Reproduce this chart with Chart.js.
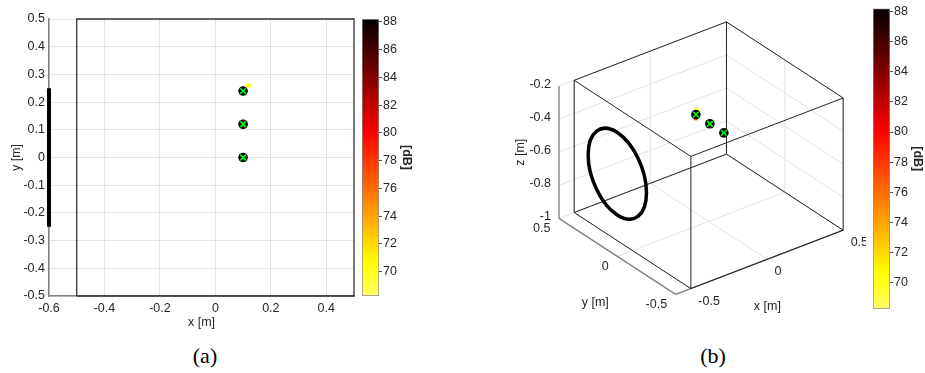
<!DOCTYPE html>
<html>
<head>
<meta charset="utf-8">
<script src="https://cdn.jsdelivr.net/npm/chart.js@4.4.0/dist/chart.umd.min.js"></script>
<style>
body { margin: 0; background: #fff; width: 925px; height: 373px; position: relative; overflow: hidden; }
canvas { position: absolute; top: 0; }
.cap { position: absolute; top: 345px; font-family: "Liberation Serif", "DejaVu Serif", serif; font-size: 22px; line-height: 22px; color: #000; transform: translateX(-50%); }
</style>
</head>
<body>
<canvas id="cA" width="360" height="340" style="left:0"></canvas>
<canvas id="cbA" width="59" height="340" style="left:355px"></canvas>
<canvas id="cB" width="406" height="340" style="left:460px"></canvas>
<canvas id="cbB" width="59" height="340" style="left:866px"></canvas>
<div class="cap" style="left:205px">(a)</div>
<div class="cap" style="left:713px">(b)</div>
<script>
// axis limits and ticks
var xLim = [-0.6, 0.5];
var yLim = [-0.5, 0.5];
var zLim = [-1, -0.2];
var xTicks = [-0.6, -0.4, -0.2, 0, 0.2, 0.4];
var yTicks = [-0.5, -0.4, -0.3, -0.2, -0.1, 0, 0.1, 0.2, 0.3, 0.4, 0.5];
var xTicks3 = [-0.5, 0, 0.5];
var yTicks3 = [-0.5, 0, 0.5];
var zTicks3 = [-1, -0.8, -0.6, -0.4, -0.2];
var dbTicks = [70, 72, 74, 76, 78, 80, 82, 84, 86, 88];
var dbRange = [68.25, 88.2];

// room box
var roomX = [-0.5, 0.5];
var roomY = [-0.5, 0.5];
var roomZ = [-1, -0.2];

// circular array (centre, radius)
var arrayCenter = [-0.6, 0, -0.5];
var arrayRadius = 0.25;

// marked positions
var micX = [0.1, 0.1, 0.1];
var micY = [0.24, 0.12, 0];
var micZ = [-0.5, -0.5, -0.5];

// map estimates
var srcX = [0.12, 0.1];
var srcY = [0.26, 0.24];
var srcZ = [-0.49, -0.52];
var srcLevel = [70, 75];

var textCol = '#262626';
var fontFam = '"Liberation Sans", Arial, sans-serif';
var fontTick = { family: fontFam, size: 12.5 };

function fmt(v) { return String(Math.round(v * 10) / 10); }
function clamp(t) { return Math.max(0, Math.min(1, t)); }

// flipped "hot" colour map
function hotColor(v) {
  var t = (dbRange[1] - v) / (dbRange[1] - dbRange[0]);
  var r = clamp(t / 0.41), g = clamp((t - 0.41) / 0.47), b = clamp((t - 0.88) / 0.12) * 0.4;
  return 'rgb(' + Math.round(r * 255) + ',' + Math.round(g * 255) + ',' + Math.round(b * 255) + ')';
}

function barGradient(ctx) {
  var ch = ctx.chart;
  if (!ch.chartArea) return '#ff0';
  var y = ch.scales.y;
  var g = ch.ctx.createLinearGradient(0, y.getPixelForValue(dbRange[1]), 0, y.getPixelForValue(dbRange[0]));
  for (var i = 0; i <= 40; i++) {
    g.addColorStop(i / 40, hotColor(dbRange[1] - (dbRange[1] - dbRange[0]) * i / 40));
  }
  return g;
}

function pts(xs, ys) { return xs.map(function (x, i) { return { x: x, y: ys[i] }; }); }

Chart.defaults.font.family = fontFam;
Chart.defaults.color = textCol;

// ---------- (a) top view ----------
new Chart(document.getElementById('cA'), {
  type: 'scatter',
  data: {
    datasets: [
      { data: [{ x: roomX[0], y: roomY[0] }, { x: roomX[1], y: roomY[0] }, { x: roomX[1], y: roomY[1] }, { x: roomX[0], y: roomY[1] }, { x: roomX[0], y: roomY[0] }],
        showLine: true, borderColor: '#333', borderWidth: 1.3, pointRadius: 0, clip: false, order: 5 },
      { data: [{ x: arrayCenter[0], y: arrayCenter[1] - arrayRadius }, { x: arrayCenter[0], y: arrayCenter[1] + arrayRadius }],
        showLine: true, borderColor: '#000', borderWidth: 4, pointRadius: 0, clip: false, order: 4 },
      { data: pts(srcX, srcY), pointRadius: 2.6, pointBorderWidth: 0,
        pointBackgroundColor: srcLevel.map(hotColor), order: 3 },
      { data: pts(micX, micY), pointRadius: 4.8, pointBorderWidth: 0, pointBackgroundColor: '#000', order: 2 },
      { data: pts(micX, micY), pointStyle: 'crossRot', pointRadius: 4, pointBorderWidth: 1.6, pointBorderColor: '#00ff00', order: 1 }
    ]
  },
  options: {
    responsive: false, animation: false, events: [],
    layout: { padding: { left: 0, top: 19, right: 6, bottom: 0 } },
    plugins: { legend: { display: false }, tooltip: { enabled: false } },
    scales: {
      x: {
        type: 'linear', min: xLim[0], max: xLim[1],
        afterBuildTicks: function (s) { s.ticks = xTicks.map(function (v) { return { value: v }; }); },
        afterFit: function (s) { s.height = 44; },
        grid: { color: '#e4e4e4', drawTicks: false },
        border: { color: '#808080', width: 1.5 },
        ticks: { padding: 5, color: textCol, font: fontTick, maxRotation: 0, callback: fmt },
        title: { display: true, text: 'x [m]', color: textCol, font: fontTick, padding: { top: 0, bottom: 10 } }
      },
      y: {
        type: 'linear', min: yLim[0], max: yLim[1],
        afterBuildTicks: function (s) { s.ticks = yTicks.map(function (v) { return { value: v }; }); },
        afterFit: function (s) { s.width = 49; },
        grid: { color: '#e4e4e4', drawTicks: false },
        border: { color: '#808080', width: 1.5 },
        ticks: { padding: 4, color: textCol, font: fontTick, callback: fmt },
        title: { display: true, text: 'y [m]', color: textCol, font: fontTick, padding: { top: 9, bottom: 0 } }
      }
    }
  }
});

// ---------- colour bars ----------
function colorBar(id, top, bottom) {
  new Chart(document.getElementById(id), {
    type: 'bar',
    data: {
      labels: ['dB'],
      datasets: [{ data: [dbRange], backgroundColor: barGradient, borderColor: '#8c8c8c', borderWidth: 1,
        borderSkipped: false, barPercentage: 1, categoryPercentage: 1 }]
    },
    options: {
      responsive: false, animation: false, events: [],
      layout: { padding: { left: 7, top: top, right: 0, bottom: bottom } },
      plugins: { legend: { display: false }, tooltip: { enabled: false } },
      scales: {
        x: { display: false },
        y: {
          position: 'right', min: dbRange[0], max: dbRange[1],
          afterBuildTicks: function (s) { s.ticks = dbTicks.map(function (v) { return { value: v }; }); },
          afterFit: function (s) { s.width = 35; },
          grid: { drawOnChartArea: false, drawTicks: true, tickLength: 3, color: '#555' },
          border: { display: false },
          ticks: { padding: 1, color: textCol, font: fontTick },
          title: { display: true, text: '[dB]', color: textCol, font: { size: 12.5, weight: 'bold' }, padding: { top: 0, bottom: 0 } }
        }
      }
    }
  });
}
colorBar('cbA', 19, 44);
colorBar('cbB', 6, 31);

// ---------- (b) 3-D view ----------
// view: screen position of the axis-minimum corner and of the unit axis vectors
var view3 = { origin: [216, 298.7], ex: [156.6, -60.4], ey: [-120, -78.7], ez: [0, -170.9] };

function proj(x, y, z) {
  var dx = x - xLim[0], dy = y - yLim[0], dz = z - zLim[0];
  return {
    x: view3.origin[0] + view3.ex[0] * dx + view3.ey[0] * dy + view3.ez[0] * dz,
    y: view3.origin[1] + view3.ex[1] * dx + view3.ey[1] * dy + view3.ez[1] * dz
  };
}

function seg(a, b, color, width, order) {
  return { data: [proj(a[0], a[1], a[2]), proj(b[0], b[1], b[2])], showLine: true, borderColor: color,
    borderWidth: width, pointRadius: 0, clip: false, order: order };
}

var ds3 = [];
// back-wall grid
zTicks3.forEach(function (z) {
  ds3.push(seg([xLim[0], yLim[1], z], [xLim[1], yLim[1], z], '#e2e2e2', 1, 9));
  ds3.push(seg([xLim[1], yLim[0], z], [xLim[1], yLim[1], z], '#e2e2e2', 1, 9));
});
xTicks3.forEach(function (x) {
  ds3.push(seg([x, yLim[1], zLim[0]], [x, yLim[1], zLim[1]], '#e2e2e2', 1, 9));
  ds3.push(seg([x, yLim[0], zLim[0]], [x, yLim[1], zLim[0]], '#e2e2e2', 1, 9));
});
yTicks3.forEach(function (y) {
  ds3.push(seg([xLim[1], y, zLim[0]], [xLim[1], y, zLim[1]], '#e2e2e2', 1, 9));
  ds3.push(seg([xLim[0], y, zLim[0]], [xLim[1], y, zLim[0]], '#e2e2e2', 1, 9));
});
// axis lines
ds3.push(seg([xLim[0], yLim[1], zLim[0]], [xLim[0], yLim[1], zLim[1]], '#808080', 1.4, 8));
ds3.push(seg([xLim[0], yLim[0], zLim[0]], [xLim[0], yLim[1], zLim[0]], '#808080', 1.4, 8));
ds3.push(seg([xLim[0], yLim[0], zLim[0]], [xLim[1], yLim[0], zLim[0]], '#808080', 1.4, 8));
// room box edges
[0, 1].forEach(function (a) {
  [0, 1].forEach(function (b) {
    ds3.push(seg([roomX[0], roomY[a], roomZ[b]], [roomX[1], roomY[a], roomZ[b]], '#222', 1, 7));
    ds3.push(seg([roomX[a], roomY[0], roomZ[b]], [roomX[a], roomY[1], roomZ[b]], '#222', 1, 7));
    ds3.push(seg([roomX[a], roomY[b], roomZ[0]], [roomX[a], roomY[b], roomZ[1]], '#222', 1, 7));
  });
});
ds3.push({ data: srcX.map(function (x, i) { return proj(x, srcY[i], srcZ[i]); }), pointRadius: 2.6, pointBorderWidth: 0,
  pointBackgroundColor: srcLevel.map(hotColor), order: 3 });
ds3.push({ data: micX.map(function (x, i) { return proj(x, micY[i], micZ[i]); }), pointRadius: 4.8, pointBorderWidth: 0,
  pointBackgroundColor: '#000', order: 2 });
ds3.push({ data: micX.map(function (x, i) { return proj(x, micY[i], micZ[i]); }), pointStyle: 'crossRot', pointRadius: 4,
  pointBorderWidth: 1.6, pointBorderColor: '#00ff00', order: 1 });

var axes3 = {
  id: 'axes3',
  afterDraw: function (chart) {
    var ctx = chart.ctx, sx = chart.scales.x, sy = chart.scales.y;
    function P(x, y, z) { var p = proj(x, y, z); return { x: sx.getPixelForValue(p.x), y: sy.getPixelForValue(p.y) }; }
    ctx.save();
    // circular array
    var c = P(arrayCenter[0], arrayCenter[1], arrayCenter[2]);
    var a = P(arrayCenter[0], arrayCenter[1] + arrayRadius, arrayCenter[2]);
    var b = P(arrayCenter[0], arrayCenter[1], arrayCenter[2] + arrayRadius);
    var base = ctx.getTransform();
    ctx.beginPath();
    ctx.transform(a.x - c.x, a.y - c.y, b.x - c.x, b.y - c.y, c.x, c.y);
    ctx.arc(0, 0, 1, 0, 2 * Math.PI);
    ctx.setTransform(base);
    ctx.lineWidth = 3.5;
    ctx.strokeStyle = '#000';
    ctx.stroke();
    // tick labels
    ctx.font = '12.5px ' + fontFam;
    ctx.fillStyle = textCol;
    ctx.textBaseline = 'middle';
    ctx.textAlign = 'right';
    zTicks3.forEach(function (z) { var p = P(xLim[0], yLim[1], z); ctx.fillText(fmt(z), p.x - 8, p.y - 2); });
    yTicks3.forEach(function (y) { var p = P(xLim[0], y, zLim[0]); ctx.fillText(fmt(y), p.x - 8.5, p.y + 10.5); });
    ctx.textAlign = 'left';
    xTicks3.forEach(function (x) { var p = P(x, yLim[0], zLim[0]); ctx.fillText(fmt(x), p.x + 7.5, p.y + 12.5); });
    // axis titles
    ctx.textAlign = 'center';
    var xm = P((xLim[0] + xLim[1]) / 2, yLim[0], zLim[0]);
    ctx.fillText('x [m]', xm.x + 8, xm.y + 44);
    var ym = P(xLim[0], (yLim[0] + yLim[1]) / 2, zLim[0]);
    ctx.fillText('y [m]', ym.x - 22, ym.y + 46);
    var zm = P(xLim[0], yLim[1], (zLim[0] + zLim[1]) / 2);
    ctx.translate(zm.x - 38, zm.y);
    ctx.rotate(-Math.PI / 2);
    ctx.fillText('z [m]', 0, 0);
    ctx.restore();
  }
};

new Chart(document.getElementById('cB'), {
  type: 'scatter',
  data: { datasets: ds3 },
  options: {
    responsive: false, animation: false, events: [],
    layout: { padding: 0 },
    plugins: { legend: { display: false }, tooltip: { enabled: false } },
    scales: {
      x: { type: 'linear', min: 0, max: 406, display: false },
      y: { type: 'linear', min: 0, max: 340, reverse: true, display: false }
    }
  },
  plugins: [axes3]
});
</script>
</body>
</html>
